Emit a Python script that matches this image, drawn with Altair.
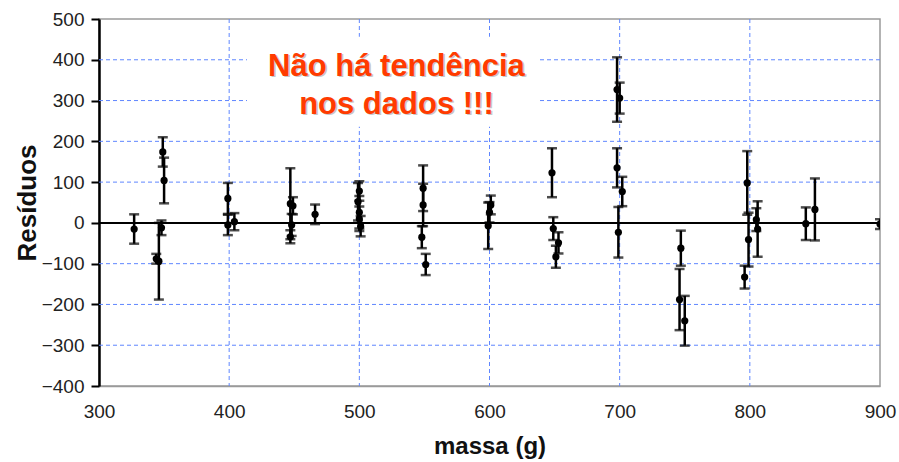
import altair as alt
import pandas as pd

# Residuals of the fit versus mass, with their uncertainties
massa = [327, 344, 346, 348, 349, 350, 399, 399, 404,
         447, 449, 448, 447, 466, 500, 499, 500, 500, 501,
         549, 549, 548, 551, 599, 601, 600,
         648, 649, 653, 651, 698, 700, 698, 702, 699,
         747, 746, 750, 798, 799, 796, 805, 806, 843, 850, 900]
residuo = [-15, -88, -94, -12, 174, 104, 60, -5, 3,
           47, 42, -5, -34, 21, 78, 52, 26, 10, -8,
           85, 44, -35, -102, -7, 44, 26,
           123, -14, -49, -83, 327, 306, 135, 77, -23,
           -62, -188, -240, 98, -41, -133, 8, -15, -2, 33, -3]
erro = [36, 12, 94, 18, 36, 56, 38, 25, 21,
        87, 21, 27, 16, 24, 24, 46, 40, 30, 25,
        56, 52, 27, 26, 57, 23, 25,
        60, 28, 26, 27, 79, 38, 48, 36, 62,
        43, 75, 61, 78, 66, 28, 28, 68, 40, 76, 12]

grade_x = [400, 500, 600, 700, 800]
grade_y = [-300, -200, -100, 100, 200, 300, 400]

nota_linhas = ["Não há tendência", "nos dados !!!"]
nota_x = [528.5, 528.5]
nota_y = [361, 268]
caixa = {"x": [413.7], "x2": [636.5], "y": [235.7], "y2": [456.7]}

df = pd.DataFrame({"massa": massa, "residuo": residuo, "erro": erro})
df["lo"] = df["residuo"] - df["erro"]
df["hi"] = df["residuo"] + df["erro"]

FONT = "Liberation Sans"
GRID = "#5f86ff"

xscale = alt.Scale(domain=[300, 900], nice=False, zero=False)
yscale = alt.Scale(domain=[-400, 500], nice=False, zero=False)
xaxis = alt.Axis(
    title="massa (g)", values=list(range(300, 901, 100)), grid=False,
    domainColor="#9a9a9a", domainWidth=1.5, ticks=False, labelFlush=False,
    labelFont=FONT, labelFontSize=19, labelColor="#222", labelPadding=16,
    titleFont=FONT, titleFontSize=24, titleFontWeight="bold", titleColor="#111",
    titleY=60, titleBaseline="middle",
)
yaxis = alt.Axis(
    title="Resíduos", values=list(range(-400, 501, 100)), grid=False,
    domainColor="#000", domainWidth=2.5, tickColor="#000", tickWidth=2, tickSize=8,
    labelFlush=False,
    labelFont=FONT, labelFontSize=19, labelColor="#222", labelPadding=7,
    titleFont=FONT, titleFontSize=26, titleFontWeight="bold", titleColor="#111",
    titleX=-72, titleY=183.5, titleAngle=270, titleAlign="center", titleBaseline="middle",
)


def X(field):
    return alt.X(field, type="quantitative", scale=xscale, axis=xaxis)


def Y(field):
    return alt.Y(field, type="quantitative", scale=yscale, axis=yaxis)


grid_v = alt.Chart(pd.DataFrame({"gx": grade_x})).mark_rule(
    color=GRID, strokeWidth=1, strokeDash=[4, 3]).encode(x=X("gx"))
grid_h = alt.Chart(pd.DataFrame({"gy": grade_y})).mark_rule(
    color=GRID, strokeWidth=1, strokeDash=[4, 3]).encode(y=Y("gy"))

box = alt.Chart(pd.DataFrame(caixa)).mark_rect(color="white").encode(
    x=X("x"), x2="x2", y=Y("y"), y2="y2")

zero = alt.Chart(pd.DataFrame({"z": [0]})).mark_rule(
    color="black", strokeWidth=2).encode(y=Y("z"))

base = alt.Chart(df)
bars = base.mark_rule(color="black", strokeWidth=2.5, clip=True).encode(
    x=X("massa"), y=Y("lo"), y2="hi")
cap_lo = base.mark_tick(color="black", orient="horizontal", size=10, thickness=2.5,
                        clip=True).encode(x=X("massa"), y=Y("lo"))
cap_hi = base.mark_tick(color="black", orient="horizontal", size=10, thickness=2.5,
                        clip=True).encode(x=X("massa"), y=Y("hi"))
pts = base.mark_circle(color="black", size=52, opacity=1, clip=True).encode(
    x=X("massa"), y=Y("residuo"))

nota_df = pd.DataFrame({"t": nota_linhas, "x": nota_x, "y": nota_y})
shadow = alt.Chart(nota_df).mark_text(
    font=FONT, fontSize=31, fontWeight="bold", color="#9a9a9a", opacity=0.55,
    align="center", baseline="alphabetic", dx=1.5, dy=1.5).encode(
    x=X("x"), y=Y("y"), text="t")
nota = alt.Chart(nota_df).mark_text(
    font=FONT, fontSize=31, fontWeight="bold", color="#ff3b00",
    align="center", baseline="alphabetic").encode(
    x=X("x"), y=Y("y"), text="t")

chart = alt.layer(
    grid_v, grid_h, box, zero, bars, cap_lo, cap_hi, pts, shadow, nota
).properties(
    width=781, height=367,
    autosize=alt.AutoSizeParams(type="none"),
    padding={"left": 99, "top": 19, "right": 19, "bottom": 76},
    background="white",
).configure_view(stroke="#9a9a9a", strokeWidth=1.5)

chart.save("out.html", embed_options={"renderer": "svg", "actions": False})
